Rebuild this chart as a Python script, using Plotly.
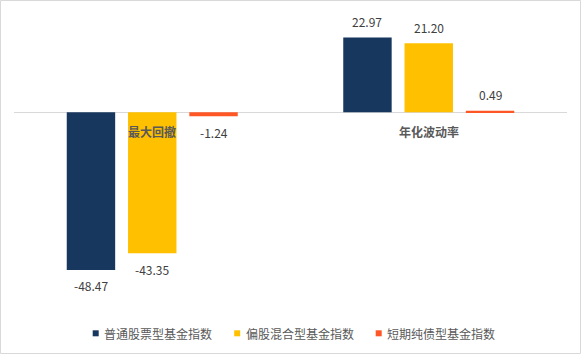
import plotly.graph_objects as go

categories = ["最大回撤", "年化波动率"]
series_names = ["普通股票型基金指数", "偏股混合型基金指数", "短期纯债型基金指数"]
stock_vals = [-48.47, 22.97]
mixed_vals = [-43.35, 21.20]
bond_vals = [-1.24, 0.49]
colors = ["#17375E", "#FFC000", "#FF5626"]

series_vals = [stock_vals, mixed_vals, bond_vals]

W, H = 581, 354
ML, MR, MT, MB = 14, 14, 10, 50
BARGAP = 0.335
BARGROUPGAP = 0.21

pw = W - ML - MR
ph = H - MT - MB


def px_x(p):
    return (p - ML) / pw


def px_y(p):
    return (MT + ph - p) / ph


fig = go.Figure()
for name, vals, col in zip(series_names, series_vals, colors):
    fig.add_trace(go.Bar(x=categories, y=vals, name=name, marker_color=col,
                         marker_line_width=0, showlegend=False))

# value labels
n = len(series_vals)
slot = (1 - BARGAP) / n
font_num = dict(family="Noto Sans CJK SC, Noto Sans, sans-serif", size=12, color="#404040")
for j, vals in enumerate(series_vals):
    for i, v in enumerate(vals):
        fig.add_annotation(x=i + (j - (n - 1) / 2) * slot, y=v, xref="x", yref="y",
                           text=f"{v:.2f}", showarrow=False, yanchor="middle",
                           yshift=16 if v >= 0 else -16, font=font_num)

# category labels near zero line
for c in categories:
    fig.add_annotation(x=c, y=0, xref="x", yref="y", text=f"<b>{c}</b>", showarrow=False,
                       yanchor="middle", yshift=-19.5,
                       font=dict(family="Noto Sans CJK SC, sans-serif", size=12, color="#595959"))

# legend (custom: small square markers close to text, like the original)
LEG_Y = 333.3
LEG_X0 = 95.7
LEG_PITCH = 141.5
MK = 6
for k, (name, col) in enumerate(zip(series_names, colors)):
    cx = LEG_X0 + k * LEG_PITCH
    fig.add_shape(type="rect", xref="paper", yref="paper",
                  x0=px_x(cx - MK / 2), x1=px_x(cx + MK / 2),
                  y0=px_y(LEG_Y + MK / 2), y1=px_y(LEG_Y - MK / 2),
                  line=dict(width=0), fillcolor=col)
    fig.add_annotation(x=px_x(cx + 8.3), y=px_y(LEG_Y), xref="paper", yref="paper",
                       text=name, showarrow=False, xanchor="left", yanchor="middle",
                       xshift=-2, font=dict(family="Noto Sans CJK SC, sans-serif", size=12,
                                            color="#595959"))

# outer border
fig.add_shape(type="rect", xref="paper", yref="paper",
              x0=px_x(0.5), x1=px_x(W - 0.5),
              y0=px_y(H - 0.5), y1=px_y(0.5),
              line=dict(color="#D9D9D9", width=1), fillcolor="rgba(0,0,0,0)", layer="below")

fig.update_layout(
    width=W, height=H,
    margin=dict(l=ML, r=MR, t=MT, b=MB),
    paper_bgcolor="white", plot_bgcolor="white",
    barmode="group", bargap=BARGAP, bargroupgap=BARGROUPGAP,
    showlegend=False,
    xaxis=dict(showticklabels=False, showline=False, showgrid=False, zeroline=False,
               ticks=""),
    yaxis=dict(range=[-58.93, 31.45], showticklabels=False, showgrid=False,
               zeroline=True, zerolinecolor="#D9D9D9", zerolinewidth=1, showline=False),
    font=dict(family="Noto Sans CJK SC, sans-serif"),
)

fig.write_html("out.html")
